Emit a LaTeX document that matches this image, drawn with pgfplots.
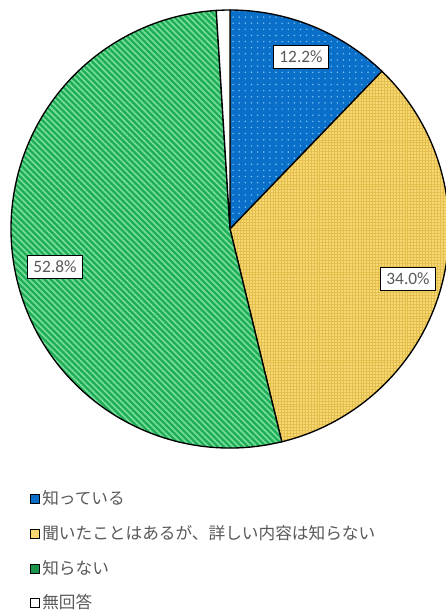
\documentclass[border=0pt]{standalone}
\usepackage{pgfplots}
\pgfplotsset{compat=1.18}
\usepackage{pgfplotstable}
\usepackage{fontspec}
\setmainfont{Carlito}
\newfontfamily\jp{Noto Sans CJK JP}
\usetikzlibrary{patterns.meta}

\definecolor{pieblue}{HTML}{0A6FC8}
\definecolor{dotblue}{HTML}{7CC6F6}
\definecolor{pieyellow}{HTML}{F8D872}
\definecolor{gridyellow}{HTML}{E4BE4C}
\definecolor{piegreen}{HTML}{1FAE57}
\definecolor{stripegreen}{HTML}{78DE9C}
\definecolor{txtgrey}{HTML}{595959}

% share (%), label position in pixels from the top left
\pgfplotstableread{
value lx ly
12.2 301 57
34.0 408 279
52.8 55 267
1.0 0 0
}\piedata

\tikzset{
  slice0/.style={fill=pieblue},
  slice1/.style={fill=pieyellow},
  slice2/.style={fill=piegreen},
  slice3/.style={fill=white},
  over0/.style={pattern={Dots[radius=0.6pt, distance=4.6pt]}, pattern color=dotblue},
  over1/.style={pattern={Hatch[angle=0, distance=2.2pt, line width=0.35pt]}, pattern color=gridyellow},
  over2/.style={pattern={Lines[angle=-45, distance=3.2pt, line width=1.2pt]}, pattern color=stripegreen},
  over3/.style={fill=white},
  lbl/.style={draw=black, line width=0.9pt, fill=white, text=txtgrey,
    font=\fontsize{13}{15}\selectfont, inner xsep=4.5pt, inner ysep=4pt},
  key/.style={draw=black, line width=1.1pt, minimum size=6.8pt, inner sep=0pt},
  keytxt/.style={anchor=west, text=txtgrey, font=\jp\fontsize{12.5}{14}\selectfont, inner sep=0pt},
}

\begin{document}
\begin{tikzpicture}
\begin{axis}[
    name=ax,
    hide axis,
    x=0.75pt, y=0.75pt,
    xmin=0, xmax=446, ymin=0, ymax=612,
    clip=false,
]
\pgfplotsextra{
  \def\R{164.25pt}
  \xdef\startang{90}
  \foreach \i in {0,...,3} {
    \pgfplotstablegetelem{\i}{value}\of\piedata
    \pgfmathsetmacro\endang{\startang-3.6*\pgfplotsretval}
    \fill[slice\i] (axis cs:230,383) -- ++(\startang:\R)
      arc[start angle=\startang, end angle=\endang, radius=\R] -- cycle;
    \fill[over\i] (axis cs:230,383) -- ++(\startang:\R)
      arc[start angle=\startang, end angle=\endang, radius=\R] -- cycle;
    \draw[line width=1pt] (axis cs:230,383) -- ++(\startang:\R)
      arc[start angle=\startang, end angle=\endang, radius=\R] -- cycle;
    \xdef\startang{\endang}
  }
  \foreach \i in {0,...,2} {
    \pgfplotstablegetelem{\i}{value}\of\piedata \let\v\pgfplotsretval
    \pgfplotstablegetelem{\i}{lx}\of\piedata \let\lx\pgfplotsretval
    \pgfplotstablegetelem{\i}{ly}\of\piedata \let\ly\pgfplotsretval
    \pgfmathsetmacro\yy{612-\ly}
    \node[lbl] at (axis cs:\lx,\yy)
      {\pgfmathprintnumber[fixed, fixed zerofill, precision=1, assume math mode=true]{\v}\%};
  }
}
% legend
\node[key, fill=pieblue] at (axis cs:35,113) {};
\node[keytxt] at (axis cs:42,113.5) {知っている};
\node[key, fill=pieyellow] at (axis cs:35,78) {};
\node[keytxt] at (axis cs:42,78.5) {聞いたことはあるが、詳しい内容は知らない};
\node[key, fill=piegreen!85!black] at (axis cs:35,43) {};
\node[keytxt] at (axis cs:42,43.5) {知らない};
\node[key, fill=white] at (axis cs:35,9) {};
\node[keytxt] at (axis cs:42,9.5) {無回答};
\end{axis}
\pgfresetboundingbox
\useasboundingbox (ax.south west) rectangle (ax.north east);
\end{tikzpicture}
\end{document}
